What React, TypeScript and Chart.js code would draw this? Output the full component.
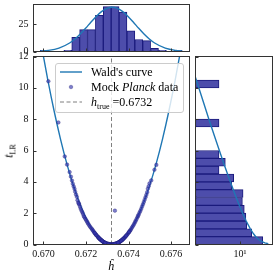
import React, { useEffect, useRef } from 'react';
import { Chart, registerables } from 'chart.js';

Chart.register(...registerables);

const FONT = "'Liberation Serif', 'Times New Roman', serif";

// ---------- main panel ----------
const H_MIN = 0.66953;
const H_MAX = 0.67687;
const T_MIN = 0;
const T_MAX = 12;
const H_TRUE = 0.6732;
const H_TICKS = [0.670, 0.672, 0.674, 0.676];
const H_TICK_LABELS = ['0.670', '0.672', '0.674', '0.676'];
const T_TICKS = [0, 2, 4, 6, 8, 10, 12];

const mockH = [
  0.67319, 0.67316, 0.67312, 0.67309, 0.67305, 0.67302, 0.67298, 0.67295, 0.67291, 0.67288, 0.67284, 0.67281,
  0.67277, 0.67274, 0.6727, 0.67267, 0.67263, 0.6726, 0.67257, 0.67301, 0.67293, 0.67286, 0.67279, 0.67272,
  0.67265, 0.6731, 0.67297, 0.67283, 0.67269, 0.67258, 0.67314, 0.6729, 0.67276, 0.67262, 0.67306,
  0.67321, 0.67324, 0.67328, 0.67331, 0.67335, 0.67338, 0.67342, 0.67345, 0.67349, 0.67352, 0.67356, 0.67359,
  0.67363, 0.67366, 0.6737, 0.67373, 0.67377, 0.6738, 0.67384, 0.67326, 0.67333, 0.6734, 0.67347, 0.67354,
  0.67361, 0.67368, 0.67375, 0.67382, 0.6733, 0.67344, 0.67358, 0.67372, 0.67337, 0.67351, 0.67365,
  0.67254, 0.6725, 0.67246, 0.67243, 0.67239, 0.67236, 0.67232, 0.67229, 0.67248, 0.67241,
  0.67387, 0.67391, 0.67394, 0.67398, 0.67401, 0.67405, 0.67408, 0.67411, 0.67389, 0.67403,
  0.67225, 0.6722, 0.67216, 0.67212, 0.67208, 0.67205, 0.67415, 0.67419, 0.67423, 0.67427, 0.67431,
  0.67201, 0.67197, 0.67193, 0.6719, 0.67186, 0.67434, 0.67438, 0.67442, 0.67445, 0.67448,
  0.67183, 0.67179, 0.67175, 0.67172, 0.67452, 0.67456, 0.6746, 0.67464, 0.67336,
  0.67168, 0.67164, 0.6716, 0.67166, 0.67468, 0.67472, 0.67476,
  0.67157, 0.67153, 0.67149, 0.6748, 0.67484, 0.67488,
  0.67146, 0.67142, 0.67138, 0.67491, 0.67495, 0.67499,
  0.67134, 0.67129, 0.67507, 0.67123, 0.67522, 0.67111, 0.67531, 0.671, 0.6707, 0.67023,
];
const mockT = [
  0.0, 0.01, 0.01, 0.02, 0.03, 0.04, 0.06, 0.07, 0.09, 0.12, 0.15, 0.17,
  0.22, 0.25, 0.3, 0.33, 0.38, 0.42, 0.47, 0.05, 0.08, 0.13, 0.19, 0.27,
  0.35, 0.02, 0.06, 0.16, 0.31, 0.46, 0.01, 0.11, 0.23, 0.4, 0.03,
  0.0, 0.01, 0.01, 0.02, 0.03, 0.04, 0.06, 0.07, 0.1, 0.12, 0.15, 0.18,
  0.22, 0.25, 0.29, 0.33, 0.38, 0.42, 0.48, 0.01, 0.02, 0.05, 0.09, 0.13,
  0.2, 0.27, 0.36, 0.45, 0.01, 0.07, 0.17, 0.31, 0.04, 0.11, 0.24,
  0.52, 0.58, 0.64, 0.7, 0.77, 0.83, 0.9, 0.97, 0.61, 0.73,
  0.53, 0.59, 0.64, 0.71, 0.77, 0.84, 0.9, 0.96, 0.56, 0.8,
  1.04, 1.12, 1.2, 1.29, 1.38, 1.46, 1.05, 1.14, 1.23, 1.33, 1.43,
  1.55, 1.64, 1.73, 1.81, 1.94, 1.52, 1.62, 1.74, 1.83, 1.91,
  2.05, 2.16, 2.28, 2.41, 2.04, 2.15, 2.28, 2.43, 2.16,
  2.55, 2.68, 2.83, 2.62, 2.57, 2.71, 2.86,
  3.04, 3.19, 3.37, 3.02, 3.17, 3.34,
  3.55, 3.71, 3.88, 3.56, 3.72, 3.9,
  4.08, 4.33, 4.09, 4.62, 4.77, 5.1, 5.08, 5.62, 7.79, 10.42,
];

const waldH = [
  0.6699, 0.6702, 0.6705, 0.6708, 0.6711, 0.6714, 0.6717, 0.672, 0.6723, 0.6726, 0.6729, 0.6732,
  0.6735, 0.6738, 0.6741, 0.6744, 0.6747, 0.675, 0.6753, 0.6756, 0.6759, 0.6762, 0.6765,
];
const waldT = [
  12.73, 10.52, 8.52, 6.73, 5.15, 3.79, 2.63, 1.68, 0.95, 0.42, 0.11, 0.0,
  0.11, 0.42, 0.95, 1.68, 2.63, 3.79, 5.15, 6.73, 8.52, 10.52, 12.73,
];

// ---------- top histogram ----------
const TOP_MAX = 43;
const TOP_TICKS = [0, 25];
const topBinCenters = [
  0.670031, 0.670402, 0.670773, 0.671144, 0.671515, 0.671886, 0.672257, 0.672628, 0.672999,
  0.67337, 0.673741, 0.674112, 0.674483, 0.674854, 0.675225, 0.675596, 0.675967, 0.676338,
];
const topCounts = [1, 0, 0, 1, 13, 20, 20, 33, 41, 41, 36, 19, 11, 10, 3, 1, 0, 1];
const gaussH = [
  0.66985, 0.67023, 0.67073, 0.67123, 0.67148, 0.67173, 0.67198, 0.67223, 0.67248, 0.67273, 0.67298, 0.67323,
  0.67348, 0.67373, 0.67398, 0.67423, 0.67448, 0.67473, 0.67498, 0.67523, 0.67573, 0.67623, 0.67652,
];
const gaussN = [
  0.36, 0.98, 3.06, 7.76, 11.4, 16.0, 21.2, 26.8, 32.1, 36.5, 39.5, 40.5,
  39.5, 36.5, 32.1, 26.8, 21.2, 16.0, 11.4, 7.76, 3.06, 0.98, 0.46,
];

// ---------- right histogram ----------
const R_MIN = 0.076;
const R_MAX = 353;
const R_TICKS = [10];
const R_TICK_LABELS = ['10\u00B9'];
const rightBinCenters = [0.25, 0.75, 1.25, 1.75, 2.25, 2.75, 3.25, 3.75, 4.25, 4.75, 5.25, 5.75, 7.75, 10.25];
const rightCounts = [120, 36, 21, 19, 16, 13, 14, 4, 5, 1, 2, 1, 1, 1];
const chi2T = [0.05, 0.1, 0.2, 0.3, 0.5, 0.7, 1, 1.5, 2, 2.5, 3, 4, 5, 6, 7, 8, 9, 10, 11, 12];
const chi2N = [222.7, 153.6, 103.3, 80.2, 56.2, 43.0, 31.0, 19.7, 13.3, 9.25, 6.58, 3.46, 1.88, 1.04, 0.58, 0.33, 0.19, 0.109, 0.063, 0.037];

// ---------- styles ----------
const CURVE = '#1f77b4';
const BAR_FILL = '#4d4dab';
const BAR_EDGE = '#1b1b7d';
const PT_FILL = 'rgba(55,55,175,0.65)';
const PT_EDGE = 'rgba(25,25,115,0.65)';
const SPINE = '#333333';
const TICK_LEN = 3;
const TXT = '#111111';

const spinePlugin = {
  id: 'spines',
  afterDraw(chart: any) {
    const { ctx, chartArea: a, scales } = chart;
    ctx.save();
    ctx.strokeStyle = SPINE;
    ctx.lineWidth = 1;
    ctx.beginPath();
    const xs = scales.x;
    const ys = scales.y;
    for (const t of xs.ticks) {
      const p = Math.round(xs.getPixelForValue(t.value)) + 0.5;
      ctx.moveTo(p, a.bottom);
      ctx.lineTo(p, a.bottom - TICK_LEN);
    }
    for (const t of ys.ticks) {
      const p = Math.round(ys.getPixelForValue(t.value)) + 0.5;
      ctx.moveTo(a.left, p);
      ctx.lineTo(a.left + TICK_LEN, p);
    }
    ctx.stroke();
    ctx.strokeRect(a.left, a.top, a.right - a.left, a.bottom - a.top);
    ctx.restore();
  },
};

const tickFont = { family: FONT, size: 10 };

const fixSize = (w: number | null, h: number | null) => (s: any) => {
  if (w !== null) s.width = w;
  if (h !== null) s.height = h;
  s.paddingTop = 0;
  s.paddingBottom = 0;
  s.paddingLeft = 0;
  s.paddingRight = 0;
};

export default function App() {
  const topRef = useRef<HTMLCanvasElement>(null);
  const mainRef = useRef<HTMLCanvasElement>(null);
  const rightRef = useRef<HTMLCanvasElement>(null);

  useEffect(() => {
    const charts: Chart[] = [];

    // main
    charts.push(
      new Chart(mainRef.current as HTMLCanvasElement, {
        type: 'scatter',
        data: {
          datasets: [
            {
              type: 'line',
              label: 'h_true',
              data: [
                { x: H_TRUE, y: T_MIN },
                { x: H_TRUE, y: T_MAX },
              ],
              borderColor: '#7f7f7f',
              borderWidth: 1,
              borderDash: [4, 2.5],
              pointRadius: 0,
              order: 3,
            } as any,
            {
              type: 'line',
              label: "Wald's curve",
              data: waldH.map((h, i) => ({ x: h, y: waldT[i] })),
              borderColor: CURVE,
              borderWidth: 1.4,
              pointRadius: 0,
              cubicInterpolationMode: 'monotone',
              order: 2,
            } as any,
            {
              type: 'scatter',
              label: 'Mock Planck data',
              data: mockH.map((h, i) => ({ x: h, y: mockT[i] })),
              backgroundColor: PT_FILL,
              borderColor: PT_EDGE,
              borderWidth: 0.5,
              pointRadius: 1.8,
              order: 1,
            } as any,
          ],
        },
        options: {
          animation: false,
          responsive: false,
          events: [],
          layout: { padding: { top: 6.5, right: 5.5, left: 0, bottom: 0 } },
          plugins: { legend: { display: false }, tooltip: { enabled: false } },
          scales: {
            x: {
              type: 'linear',
              min: H_MIN,
              max: H_MAX,
              grid: { display: false, drawTicks: false },
              border: { display: false },
              afterBuildTicks: (s: any) => {
                s.ticks = H_TICKS.map((v) => ({ value: v }));
              },
              afterFit: fixSize(null, 33.5),
              ticks: {
                autoSkip: false,
                maxRotation: 0,
                padding: 4,
                color: TXT,
                font: tickFont,
                callback: (_v: any, i: number) => H_TICK_LABELS[i],
              },
            },
            y: {
              type: 'linear',
              min: T_MIN,
              max: T_MAX,
              grid: { display: false, drawTicks: false },
              border: { display: false },
              afterBuildTicks: (s: any) => {
                s.ticks = T_TICKS.map((v) => ({ value: v }));
              },
              afterFit: fixSize(33.5, null),
              ticks: {
                autoSkip: false,
                padding: 5,
                color: TXT,
                font: tickFont,
                callback: (v: any) => String(v),
              },
            },
          },
        } as any,
        plugins: [spinePlugin],
      })
    );

    // top
    charts.push(
      new Chart(topRef.current as HTMLCanvasElement, {
        type: 'bar',
        data: {
          datasets: [
            {
              type: 'line',
              label: 'fit',
              data: gaussH.map((h, i) => ({ x: h, y: gaussN[i] })),
              borderColor: CURVE,
              borderWidth: 1.4,
              pointRadius: 0,
              cubicInterpolationMode: 'monotone',
              order: 1,
            } as any,
            {
              type: 'bar',
              label: 'counts',
              data: topBinCenters
                .map((c, i) => ({ x: c, y: topCounts[i] }))
                .filter((d) => d.y > 0),
              backgroundColor: BAR_FILL,
              borderColor: BAR_EDGE,
              borderWidth: 1,
              borderSkipped: false,
              barPercentage: 1,
              categoryPercentage: 1,
              order: 2,
            } as any,
          ],
        },
        options: {
          animation: false,
          responsive: false,
          events: [],
          layout: { padding: { top: 4.5, right: 5.5, left: 0, bottom: 0 } },
          plugins: { legend: { display: false }, tooltip: { enabled: false } },
          scales: {
            x: {
              type: 'linear',
              min: H_MIN,
              max: H_MAX,
              offset: false,
              grid: { display: false, drawTicks: false, offset: false },
              border: { display: false },
              afterBuildTicks: (s: any) => {
                s.ticks = H_TICKS.map((v) => ({ value: v }));
              },
              afterFit: fixSize(null, 8.5),
              ticks: { display: false },
            },
            y: {
              type: 'linear',
              min: 0,
              max: TOP_MAX,
              grid: { display: false, drawTicks: false },
              border: { display: false },
              afterBuildTicks: (s: any) => {
                s.ticks = TOP_TICKS.map((v) => ({ value: v }));
              },
              afterFit: fixSize(33.5, null),
              ticks: {
                autoSkip: false,
                padding: 5,
                color: TXT,
                font: tickFont,
                callback: (v: any) => String(v),
              },
            },
          },
        } as any,
        plugins: [spinePlugin],
      })
    );

    // right
    charts.push(
      new Chart(rightRef.current as HTMLCanvasElement, {
        type: 'bar',
        data: {
          datasets: [
            {
              type: 'line',
              label: 'chi2',
              indexAxis: 'y',
              data: chi2T.map((t, i) => ({ x: chi2N[i], y: t })),
              borderColor: CURVE,
              borderWidth: 1.4,
              pointRadius: 0,
              order: 1,
            } as any,
            {
              type: 'bar',
              label: 'counts',
              indexAxis: 'y',
              data: rightBinCenters.map((c, i) => ({ x: rightCounts[i], y: c })),
              backgroundColor: BAR_FILL,
              borderColor: BAR_EDGE,
              borderWidth: 1,
              borderSkipped: false,
              barPercentage: 1,
              categoryPercentage: 1,
              order: 2,
            } as any,
          ],
        },
        options: {
          indexAxis: 'y',
          animation: false,
          responsive: false,
          events: [],
          layout: { padding: { top: 6.5, right: 6.5, left: 0, bottom: 0 } },
          plugins: { legend: { display: false }, tooltip: { enabled: false } },
          scales: {
            x: {
              type: 'logarithmic',
              min: R_MIN,
              max: R_MAX,
              grid: { display: false, drawTicks: false },
              border: { display: false },
              afterBuildTicks: (s: any) => {
                s.ticks = R_TICKS.map((v) => ({ value: v }));
              },
              afterFit: fixSize(null, 33.5),
              ticks: {
                autoSkip: false,
                maxRotation: 0,
                padding: 4,
                color: TXT,
                font: tickFont,
                callback: (_v: any, i: number) => R_TICK_LABELS[i],
              },
            },
            y: {
              type: 'linear',
              min: T_MIN,
              max: T_MAX,
              offset: false,
              grid: { display: false, drawTicks: false, offset: false },
              border: { display: false },
              afterBuildTicks: (s: any) => {
                s.ticks = T_TICKS.map((v) => ({ value: v }));
              },
              afterFit: fixSize(2.5, null),
              ticks: { display: false },
            },
          },
        } as any,
        plugins: [spinePlugin],
      })
    );

    return () => {
      charts.forEach((c) => c.destroy());
    };
  }, []);

  const legendText: React.CSSProperties = {
    position: 'absolute',
    left: 35,
    height: 14,
    lineHeight: '14px',
    fontSize: 12,
    whiteSpace: 'nowrap',
    color: '#000',
  };

  return (
    <div
      style={{
        position: 'fixed',
        left: 0,
        top: 0,
        width: 279,
        height: 278,
        background: '#fff',
        overflow: 'hidden',
        fontFamily: FONT,
      }}
    >
      <canvas ref={topRef} width={195} height={60} style={{ position: 'absolute', left: 0, top: 0 }} />
      <canvas ref={mainRef} width={195} height={228} style={{ position: 'absolute', left: 0, top: 50 }} />
      <canvas ref={rightRef} width={86} height={228} style={{ position: 'absolute', left: 193, top: 50 }} />

      {/* legend */}
      <div
        style={{
          position: 'absolute',
          left: 55,
          top: 63,
          width: 127,
          height: 47.5,
          border: '1px solid #cccccc',
          borderRadius: 3,
          background: 'rgba(255,255,255,0.8)',
        }}
      >
        <svg width={127} height={47} style={{ position: 'absolute', left: 0, top: 0 }}>
          <line x1={4} y1={8} x2={26} y2={8} stroke={CURVE} strokeWidth={1.4} />
          <circle cx={15} cy={23} r={1.8} fill={PT_FILL} stroke={PT_EDGE} strokeWidth={0.5} />
          <line x1={4} y1={38} x2={26} y2={38} stroke="#7f7f7f" strokeWidth={1} strokeDasharray="4 2.5" />
        </svg>
        <div style={{ ...legendText, top: 1 }}>Wald's curve</div>
        <div style={{ ...legendText, top: 16 }}>
          Mock <i>Planck</i> data
        </div>
        <div style={{ ...legendText, top: 31 }}>
          <i>h</i>
          <span style={{ fontSize: 8, position: 'relative', top: 3 }}>true</span> =0.6732
        </div>
      </div>

      {/* axis titles */}
      <div
        style={{
          position: 'absolute',
          left: 9,
          top: 151,
          transform: 'translate(-50%,-50%) rotate(-90deg)',
          fontSize: 12,
          whiteSpace: 'nowrap',
          color: '#000',
        }}
      >
        <i>t</i>
        <span style={{ fontSize: 8, position: 'relative', top: 3 }}>LR</span>
      </div>
      <div
        style={{
          position: 'absolute',
          left: 111,
          top: 266,
          transform: 'translate(-50%,-50%)',
          fontSize: 12,
          whiteSpace: 'nowrap',
          color: '#000',
        }}
      >
        <i>{'\u0125'}</i>
      </div>
    </div>
  );
}
